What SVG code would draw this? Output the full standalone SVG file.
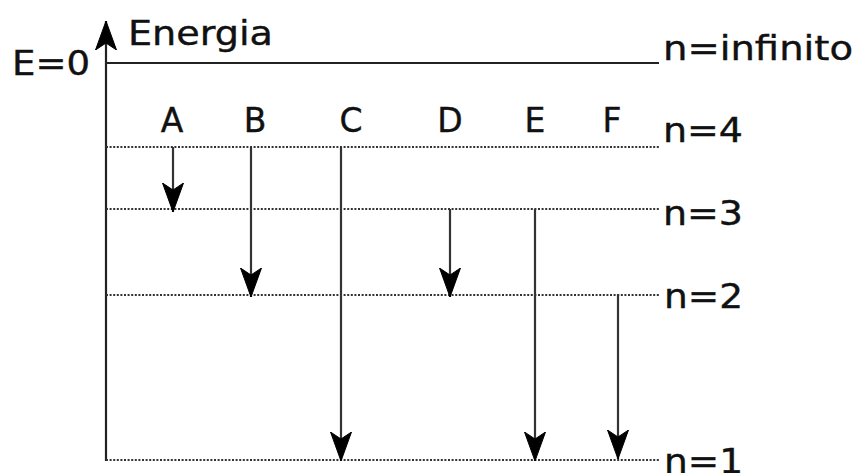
<svg xmlns="http://www.w3.org/2000/svg" width="856" height="473" viewBox="0 0 856 473">
<style>
text{font-family:"DejaVu Sans","Verdana",sans-serif;font-size:33px;fill:#111;stroke:#111;stroke-width:0.4}
.lvl{stroke:#333;stroke-width:2;stroke-dasharray:2 1.6;fill:none}
.solid{stroke:#222;stroke-width:2;fill:none}
.arr{stroke:#333;stroke-width:2.2;fill:none;marker-end:url(#head)}
.lab{text-anchor:middle}
</style>
<defs>
<marker id="head" markerUnits="userSpaceOnUse" viewBox="0 0 29 22" refX="29" refY="11" markerWidth="29" markerHeight="22" orient="auto">
<path d="M29,11 L0,0.5 L7,11 L0,21.5 Z" fill="#000" stroke="#000" stroke-width="1" stroke-linejoin="round"/>
</marker>
</defs>
<g id="axis">
<line class="arr" x1="106" y1="461" x2="106" y2="21" style="stroke:#222"/>
<text x="128" y="45" textLength="145" lengthAdjust="spacingAndGlyphs">Energia</text>
<text x="12" y="75" textLength="78" lengthAdjust="spacingAndGlyphs">E=0</text>
</g>
<g id="level-inf">
<line class="solid" x1="106" y1="63" x2="659" y2="63"/>
<text x="663" y="60" textLength="190" lengthAdjust="spacingAndGlyphs">n=infinito</text>
</g>
<g id="level-4">
<line class="lvl" x1="106" y1="147" x2="659" y2="147"/>
<text x="663" y="142" textLength="80" lengthAdjust="spacingAndGlyphs">n=4</text>
</g>
<g id="level-3">
<line class="lvl" x1="106" y1="209" x2="659" y2="209"/>
<text x="663" y="225" textLength="80" lengthAdjust="spacingAndGlyphs">n=3</text>
</g>
<g id="level-2">
<line class="lvl" x1="106" y1="295" x2="659" y2="295"/>
<text x="664" y="308" textLength="79" lengthAdjust="spacingAndGlyphs">n=2</text>
</g>
<g id="level-1">
<line class="lvl" x1="106" y1="460" x2="659" y2="460"/>
<text x="664" y="473" textLength="79" lengthAdjust="spacingAndGlyphs">n=1</text>
</g>
<g id="labels">
<text class="lab" x="172" y="132">A</text>
<text class="lab" x="255" y="132">B</text>
<text class="lab" x="351" y="132">C</text>
<text class="lab" x="450" y="132">D</text>
<text class="lab" x="535" y="132">E</text>
<text class="lab" x="612" y="132">F</text>
</g>
<g id="connectors">
<line id="A" class="arr" x1="173" y1="147" x2="173" y2="212"/>
<line id="B" class="arr" x1="251" y1="147" x2="251" y2="297"/>
<line id="C" class="arr" x1="341" y1="147" x2="341" y2="461"/>
<line id="D" class="arr" x1="450" y1="209" x2="450" y2="297"/>
<line id="E" class="arr" x1="535" y1="209" x2="535" y2="461"/>
<line id="F" class="arr" x1="618" y1="294" x2="618" y2="459"/>
</g>
</svg>
